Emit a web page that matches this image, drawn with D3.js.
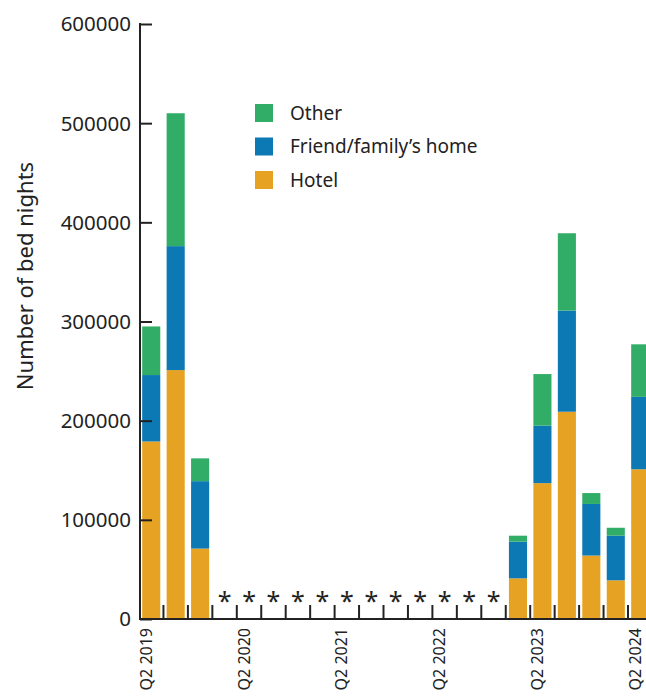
<!DOCTYPE html>
<html><head><meta charset="utf-8">
<script src="https://cdn.jsdelivr.net/npm/d3@7"></script>
<style>body{margin:0;background:#fff;} svg{display:block;}</style>
</head><body>
<svg id="c" width="646" height="700"></svg>
<script>
const quarters = ["Q2 2019","Q3 2019","Q4 2019","Q1 2020","Q2 2020","Q3 2020","Q4 2020","Q1 2021","Q2 2021","Q3 2021","Q4 2021","Q1 2022","Q2 2022","Q3 2022","Q4 2022","Q1 2023","Q2 2023","Q3 2023","Q4 2023","Q1 2024","Q2 2024"];
const hotel  = [179000,251000,71000,null,null,null,null,null,null,null,null,null,null,null,null,41000,137000,209000,64000,39000,151000];
const friend = [67000,125000,68000,null,null,null,null,null,null,null,null,null,null,null,null,37000,58000,102000,52000,45000,73000];
const other  = [49000,134000,23000,null,null,null,null,null,null,null,null,null,null,null,null,6000,52000,78000,11000,8000,53000];
const yTicks = [0,100000,200000,300000,400000,500000,600000];
const xLabels = ["Q2 2019","Q2 2020","Q2 2021","Q2 2022","Q2 2023","Q2 2024"];
const seriesNames = ["Hotel","Friend/family\u2019s home","Other"];
const colors = ["#E6A323","#0C78B4","#31AD68"];

const font = "'Noto Sans', 'Open Sans', sans-serif";
const svg = d3.select("#c");
const x = d3.scaleBand().domain(quarters).range([139, 139 + 21*24.45]).paddingInner(0.26).paddingOuter(0.13);
const y = d3.scaleLinear().domain([0,600000]).range([619,24]);

const rows = quarters.map((q,i)=>({q, Hotel:hotel[i]||0, Friend:friend[i]||0, Other:other[i]||0, missing: hotel[i]==null}));
const stack = d3.stack().keys(["Hotel","Friend","Other"])(rows);

svg.append("g").selectAll("g").data(stack).join("g")
  .attr("fill",(d,i)=>colors[i])
  .selectAll("rect").data(d=>d.filter(p=>!p.data.missing)).join("rect")
  .attr("x",d=>x(d.data.q)).attr("width",x.bandwidth())
  .attr("y",d=>y(d[1])).attr("height",d=>y(d[0])-y(d[1]));

// asterisks for missing quarters
svg.append("g").selectAll("text").data(rows.filter(r=>r.missing)).join("text")
  .attr("x",d=>x(d.q)+x.bandwidth()/2).attr("y",610)
  .attr("text-anchor","middle").attr("font-family",font).attr("font-size",25)
  .attr("fill","#222").text("*");

// y axis
const yAxis = svg.append("g").attr("transform","translate(140,0)")
  .call(d3.axisRight(y).tickValues(yTicks).tickSize(12).tickFormat(""));
yAxis.select(".domain").remove();
yAxis.selectAll("line").attr("stroke","#222").attr("stroke-width",2);
svg.append("line").attr("x1",140).attr("x2",140).attr("y1",23).attr("y2",620).attr("stroke","#222").attr("stroke-width",2);
svg.append("g").selectAll("text").data(yTicks).join("text")
  .attr("x",131).attr("y",d=>y(d)).attr("dy","0.36em").attr("text-anchor","end")
  .attr("font-family",font).attr("font-size",20.5).attr("fill","#222").text(d=>d);

// x axis
svg.append("line").attr("x1",139).attr("x2",646).attr("y1",619).attr("y2",619).attr("stroke","#222").attr("stroke-width",2);
const bounds = quarters.slice(1).map(q=>x(q)-x.step()*x.paddingInner()/2);
svg.append("g").selectAll("line").data(bounds).join("line")
  .attr("x1",d=>d).attr("x2",d=>d).attr("y1",619).attr("y2",605)
  .attr("stroke","#222").attr("stroke-width",2);
svg.append("g").selectAll("text").data(xLabels).join("text")
  .attr("transform",d=>`translate(${x(d)+x.bandwidth()/2+0.5},628) rotate(-90)`)
  .attr("text-anchor","end").attr("font-family",font).attr("font-size",16).attr("fill","#222").text(d=>d);

// y label
svg.append("text").attr("transform","translate(33,276) rotate(-90)").attr("text-anchor","middle")
  .attr("font-family",font).attr("font-size",22).attr("fill","#222").text("Number of bed nights");

// legend
const leg = [{n:seriesNames[2],c:colors[2]},{n:seriesNames[1],c:colors[1]},{n:seriesNames[0],c:colors[0]}];
const lg = svg.append("g").selectAll("g").data(leg).join("g")
  .attr("transform",(d,i)=>`translate(255,${104+i*33.5})`);
lg.append("rect").attr("width",18).attr("height",18).attr("fill",d=>d.c);
lg.append("text").attr("x",35).attr("y",9).attr("dy","0.35em").attr("font-family",font)
  .attr("font-size",19).attr("fill","#222").text(d=>d.n);
</script>
</body></html>
